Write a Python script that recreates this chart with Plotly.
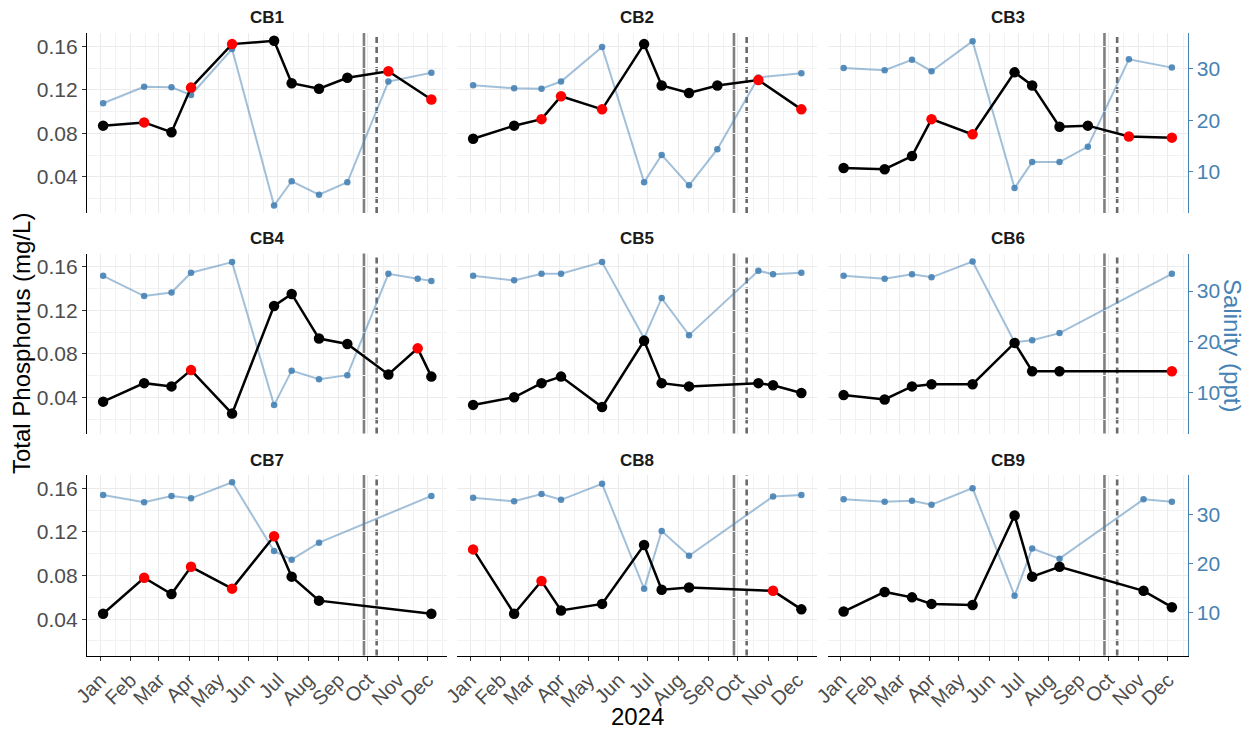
import plotly.graph_objects as go

# ---------------- data ----------------
stations = ["CB1", "CB2", "CB3", "CB4", "CB5", "CB6", "CB7", "CB8", "CB9"]

dates_a = ["2024-01-04", "2024-02-15", "2024-03-14", "2024-04-03", "2024-05-15", "2024-06-27",
           "2024-07-15", "2024-08-12", "2024-09-10", "2024-10-22", "2024-12-05"]
dates_cb4 = ["2024-01-04", "2024-02-15", "2024-03-14", "2024-04-03", "2024-05-15", "2024-06-27",
             "2024-07-15", "2024-08-12", "2024-09-10", "2024-10-22", "2024-11-21", "2024-12-05"]
dates_cb5 = ["2024-01-04", "2024-02-15", "2024-03-14", "2024-04-03", "2024-05-15", "2024-06-27",
             "2024-07-15", "2024-08-12", "2024-10-22", "2024-11-06", "2024-12-05"]
dates_cb67 = ["2024-01-04", "2024-02-15", "2024-03-14", "2024-04-03", "2024-05-15", "2024-06-27",
              "2024-07-15", "2024-08-12", "2024-12-05"]
dates_cb89 = ["2024-01-04", "2024-02-15", "2024-03-14", "2024-04-03", "2024-05-15", "2024-06-27",
              "2024-07-15", "2024-08-12", "2024-11-06", "2024-12-05"]

tp_cb1 = [0.087, 0.090, 0.081, 0.122, 0.162, 0.165, 0.126, 0.121, 0.131, 0.137, 0.111]
tp_cb2 = [0.075, 0.087, 0.093, 0.114, 0.102, 0.162, 0.124, 0.117, 0.124, 0.129, 0.102]
tp_cb3 = [0.048, 0.047, 0.059, 0.093, 0.079, 0.136, 0.124, 0.086, 0.087, 0.077, 0.076]
tp_cb4 = [0.036, 0.053, 0.050, 0.065, 0.025, 0.124, 0.135, 0.094, 0.089, 0.061, 0.085, 0.059]
tp_cb5 = [0.033, 0.040, 0.053, 0.059, 0.031, 0.092, 0.053, 0.050, 0.053, 0.051, 0.044]
tp_cb6 = [0.042, 0.038, 0.050, 0.052, 0.052, 0.090, 0.064, 0.064, 0.064]
tp_cb7 = [0.045, 0.078, 0.063, 0.088, 0.068, 0.116, 0.079, 0.057, 0.045]
tp_cb8 = [0.104, 0.045, 0.075, 0.048, 0.054, 0.108, 0.067, 0.069, 0.066, 0.049]
tp_cb9 = [0.047, 0.065, 0.060, 0.054, 0.053, 0.135, 0.079, 0.088, 0.066, 0.051]

# 1 = exceedance (red point), 0 = normal (black point)
flag_cb1 = [0, 1, 0, 1, 1, 0, 0, 0, 0, 1, 1]
flag_cb2 = [0, 0, 1, 1, 1, 0, 0, 0, 0, 1, 1]
flag_cb3 = [0, 0, 0, 1, 1, 0, 0, 0, 0, 1, 1]
flag_cb4 = [0, 0, 0, 1, 0, 0, 0, 0, 0, 0, 1, 0]
flag_cb5 = [0, 0, 0, 0, 0, 0, 0, 0, 0, 0, 0]
flag_cb6 = [0, 0, 0, 0, 0, 0, 0, 0, 1]
flag_cb7 = [0, 1, 0, 1, 1, 1, 0, 0, 0]
flag_cb8 = [1, 0, 1, 0, 0, 0, 0, 0, 1, 0]
flag_cb9 = [0, 0, 0, 0, 0, 0, 0, 0, 0, 0]

sal_cb1 = [23.3, 26.5, 26.4, 24.9, 33.8, 3.5, 8.2, 5.6, 8.0, 27.5, 29.2]
sal_cb2 = [26.8, 26.2, 26.1, 27.5, 34.2, 8.0, 13.3, 7.4, 14.4, 28.3, 29.1]
sal_cb3 = [30.1, 29.7, 31.7, 29.5, 35.3, 6.9, 11.9, 11.9, 14.9, 31.8, 30.2]
sal_cb4 = [33.0, 29.0, 29.7, 33.6, 35.7, 7.5, 14.3, 12.6, 13.4, 33.4, 32.4, 32.0]
sal_cb5 = [33.0, 32.1, 33.4, 33.4, 35.7, 20.7, 28.6, 21.3, 34.0, 33.3, 33.6]
sal_cb6 = [33.0, 32.4, 33.3, 32.7, 35.8, 19.9, 20.3, 21.7, 33.4]
sal_cb7 = [34.1, 32.6, 33.9, 33.4, 36.7, 22.6, 20.8, 24.3, 33.9]
sal_cb8 = [33.5, 32.8, 34.3, 33.1, 36.4, 14.8, 26.7, 21.6, 33.8, 34.1]
sal_cb9 = [33.2, 32.7, 32.9, 32.1, 35.5, 13.4, 23.1, 21.0, 33.2, 32.7]

event_solid = "2024-09-27"
event_dashed = "2024-10-10"

tp_ticks = [0.04, 0.08, 0.12, 0.16]
tp_ticklabels = ["0.04", "0.08", "0.12", "0.16"]
sal_ticks = [10, 20, 30]

station_data = {
    "CB1": (dates_a, tp_cb1, flag_cb1, sal_cb1),
    "CB2": (dates_a, tp_cb2, flag_cb2, sal_cb2),
    "CB3": (dates_a, tp_cb3, flag_cb3, sal_cb3),
    "CB4": (dates_cb4, tp_cb4, flag_cb4, sal_cb4),
    "CB5": (dates_cb5, tp_cb5, flag_cb5, sal_cb5),
    "CB6": (dates_cb67, tp_cb6, flag_cb6, sal_cb6),
    "CB7": (dates_cb67, tp_cb7, flag_cb7, sal_cb7),
    "CB8": (dates_cb89, tp_cb8, flag_cb8, sal_cb8),
    "CB9": (dates_cb89, tp_cb9, flag_cb9, sal_cb9),
}

# ---------------- layout ----------------
W, H = 1253, 732
FONT = "Liberation Sans, Arial, sans-serif"
STEEL = "#4682B4"
GRID = "#EBEBEB"
MINOR = "#F2F2F2"

col_px = [(87, 447), (457, 817), (827.5, 1187.5)]
row_px = [(33, 213), (253.5, 433.5), (475, 655.5)]
sal_ranges = [[2.05, 36.9], [1.9, 37.4], [1.1, 38.2]]
tp_range = [0.0067, 0.1722]
x_range = ["2023-12-18 12:00", "2024-12-21 00:00"]


def sfx(n):
    return "" if n == 1 else str(n)


fig = go.Figure()
layout = dict(
    width=W, height=H, autosize=False,
    margin=dict(l=0, r=0, t=0, b=0, pad=0, autoexpand=False),
    paper_bgcolor="white", plot_bgcolor="white",
    showlegend=False,
    font=dict(family=FONT, color="#4d4d4d"),
)
shapes = []
annotations = []

for i, st in enumerate(stations):
    r, c = divmod(i, 3)
    k = i + 1
    kt = k + 9
    xs, ys, yt = sfx(k), sfx(k), sfx(kt)
    dates, tp, flags, sal = station_data[st]
    x0, x1 = col_px[c]
    y0, y1 = row_px[r]
    bottom = r == 2

    layout[f"xaxis{xs}"] = dict(
        domain=[x0 / W, x1 / W], anchor=f"y{ys}", type="date", range=x_range,
        automargin=False,
        tick0="2024-01-01", dtick="M1", tickformat="%b",
        showgrid=True, gridcolor=GRID, gridwidth=1.2,
        minor=dict(tick0="2023-12-16 12:00", dtick="M1", showgrid=True,
                   gridcolor=MINOR, gridwidth=0.7),
        zeroline=False,
        showticklabels=bottom, showline=bottom, linecolor="black", linewidth=1.2,
        ticks="outside" if bottom else "", ticklen=4, tickcolor="#333333",
        tickangle=-45, tickfont=dict(size=20, color="#4d4d4d", family=FONT),
    )
    right = c == 2
    layout[f"yaxis{ys}"] = dict(
        domain=[1 - y1 / H, 1 - y0 / H], anchor=f"x{xs}", side="right",
        automargin=False,
        range=sal_ranges[r], tickvals=sal_ticks,
        showgrid=False, zeroline=False,
        showticklabels=right, showline=right, linecolor=STEEL, linewidth=1.2,
        ticks="outside" if right else "", ticklen=4, tickcolor=STEEL,
        tickfont=dict(size=21, color=STEEL, family=FONT),
    )
    left = c == 0
    layout[f"yaxis{yt}"] = dict(
        overlaying=f"y{ys}", anchor=f"x{xs}", side="left",
        automargin=False,
        range=tp_range, tickvals=tp_ticks, ticktext=tp_ticklabels,
        showgrid=True, gridcolor=GRID, gridwidth=1.2,
        minor=dict(tick0=0.02, dtick=0.04, showgrid=True, gridcolor=MINOR, gridwidth=0.7),
        zeroline=False,
        showticklabels=left, showline=left, linecolor="black", linewidth=1.2,
        ticks="outside" if left else "", ticklen=4, tickcolor="#333333",
        tickfont=dict(size=21, color="#4d4d4d", family=FONT),
    )

    fig.add_trace(go.Scatter(
        x=dates, y=sal, xaxis=f"x{xs}", yaxis=f"y{ys}", mode="lines+markers",
        line=dict(color="rgba(70,130,180,0.5)", width=2),
        marker=dict(color=STEEL, size=6.5, opacity=0.9),
        hoverinfo="skip",
    ))
    fig.add_trace(go.Scatter(
        x=dates, y=tp, xaxis=f"x{xs}", yaxis=f"y{yt}", mode="lines+markers",
        line=dict(color="black", width=2.5),
        marker=dict(color=["#FF0000" if f else "#000000" for f in flags], size=10.5),
        hoverinfo="skip",
    ))

    shapes.append(dict(type="line", xref=f"x{xs}", yref=f"y{ys} domain",
                       x0=event_solid, x1=event_solid, y0=0, y1=1,
                       line=dict(color="#808080", width=2.6), layer="below"))
    shapes.append(dict(type="line", xref=f"x{xs}", yref=f"y{ys} domain",
                       x0=event_dashed, x1=event_dashed, y0=0, y1=1,
                       line=dict(color="#6A6A6A", width=2.6, dash="6px,4px"), layer="below"))

    annotations.append(dict(text=f"<b>{st}</b>", xref=f"x{xs} domain", yref=f"y{ys} domain",
                            x=0.5, y=1, xanchor="center", yanchor="middle", yshift=15,
                            showarrow=False,
                            font=dict(size=17, color="#1a1a1a", family=FONT)))

# axis titles, placed relative to panel domains
annotations.append(dict(text="Total Phosphorus (mg/L)", xref="x domain", yref="y4 domain",
                        x=(21 - 87) / 360, y=(433.5 - 344) / 180, xanchor="center", yanchor="middle",
                        textangle=-90, showarrow=False,
                        font=dict(size=24, color="black", family=FONT)))
annotations.append(dict(text="Salinity (ppt)", xref="x3 domain", yref="y6 domain",
                        x=(1233 - 827.5) / 360, y=(433.5 - 345) / 180, xanchor="center", yanchor="middle",
                        textangle=90, showarrow=False,
                        font=dict(size=24, color=STEEL, family=FONT)))
annotations.append(dict(text="2024", xref="x8 domain", yref="y8 domain",
                        x=(637.5 - 457) / 360, y=(655.5 - 716) / 180.5, xanchor="center", yanchor="middle",
                        showarrow=False,
                        font=dict(size=24, color="black", family=FONT)))

layout["shapes"] = shapes
layout["annotations"] = annotations
fig.update_layout(**layout)

fig.write_html("out.html", config={"displayModeBar": False},
               post_script="document.body.style.margin='0';")
